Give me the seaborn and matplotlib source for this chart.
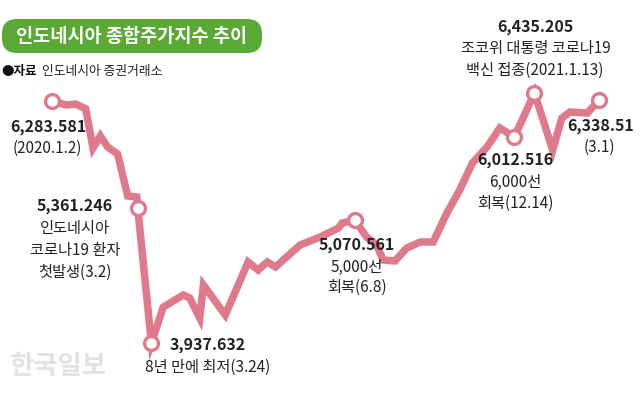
import seaborn as sns
import matplotlib.pyplot as plt
import pandas as pd
from matplotlib.patches import FancyBboxPatch
from matplotlib.transforms import IdentityTransform

# 주차(2020.1.2 기준) / 지수 - 그림에서 읽은 값
weeks = [0, 1.6, 2.6, 3.7, 4.5, 5.3, 6.1, 7.2, 8.3, 9.3, 9.4, 10.9, 12.2, 14.4,
         15.1, 16.2, 16.6, 19.0, 21.5, 22.6, 23.6, 24.5, 27.2, 29.4, 31.4, 31.8,
         33.2, 34.5, 35.6, 36.3, 37.6, 38.9, 40.4, 41.8, 43.3, 44.7, 46.1, 47.7,
         49.1, 50.7, 52.9, 54.9, 55.9, 56.8, 58.7, 60.0]
index_vals = [6336, 6296, 6306, 6257, 5869, 5988, 5879, 5809, 5392, 5382, 5273,
              3931, 4288, 4408, 4378, 4179, 4507, 4209, 4736, 4656, 4736, 4686,
              4905, 4984, 5074, 5123, 5153, 4984, 4905, 4756, 4746, 4875, 4935,
              4935, 5223, 5451, 5720, 5879, 6068, 5978, 6416, 5849, 6167, 6227,
              6217, 6346]

# 표시된 지점
mark_idx = [0, 10, 11, 26, 39, 40, 45]

title = '인도네시아 종합주가지수 추이'
source = '인도네시아 증권거래소'

df = pd.DataFrame({'week': weeks, 'value': index_vals})
marks = df.iloc[mark_idx]

sns.set_theme(style='white')
plt.rcParams['font.family'] = ['Noto Sans CJK KR', 'DejaVu Sans']

W, H = 640, 393
fig = plt.figure(figsize=(6.4, 3.93), dpi=100)
ax = fig.add_axes([0, 0, 1, 1])
ax.set_xlim(-5.70, 64.47)
ax.set_ylim(3434, 7340)
ax.axis('off')

line_col = '#df7a8c'
sns.lineplot(data=df, x='week', y='value', ax=ax, color=line_col, linewidth=5.4,
             solid_joinstyle='miter')
sns.scatterplot(data=marks, x='week', y='value', ax=ax, s=100, color='white',
                edgecolor=line_col, linewidth=2.4, zorder=5)


def px(x, y):
    return x / W, 1 - y / H


txt = '#222222'
bold_size = 11.5
norm_size = 11
light = 'light'

# 제목 (초록색 둥근 상자)
title_box = FancyBboxPatch((2, H - 53), 260, 34, boxstyle='round,pad=0,rounding_size=15',
                           fc='#5aa934', ec='none', transform=IdentityTransform())
fig.add_artist(title_box)
fig.text(*px(132, 36), title, color='white', fontsize=13.4, fontweight='bold',
         va='center', ha='center')
fig.text(*px(1, 72), '●자료', fontsize=9, fontweight='bold', color='#111111', va='center')
fig.text(*px(42, 72), source, fontsize=9.2, fontweight=light, color='#222222', va='center')

# 한국일보 워터마크
fig.text(*px(10, 367), '한국일보', fontsize=19, fontweight='bold', color='#e2e2e2',
         va='center', ha='left')

# 주석
fig.text(*px(10, 127), '6,283.581', fontsize=bold_size, fontweight='bold', color=txt, va='center')
fig.text(*px(13, 148), '(2020.1.2)', fontsize=norm_size, fontweight=light, color=txt, va='center')

fig.text(*px(75, 206), '5,361.246', fontsize=bold_size, fontweight='bold', color=txt, va='center', ha='center')
fig.text(*px(75, 228), '인도네시아', fontsize=norm_size, fontweight=light, color=txt, va='center', ha='center')
fig.text(*px(75, 250), '코로나19 환자', fontsize=norm_size, fontweight=light, color=txt, va='center', ha='center')
fig.text(*px(75, 272), '첫발생(3.2)', fontsize=norm_size, fontweight=light, color=txt, va='center', ha='center')

fig.text(*px(170, 345), '3,937.632', fontsize=bold_size, fontweight='bold', color=txt, va='center')
fig.text(*px(145, 367), '8년 만에 최저(3.24)', fontsize=norm_size, fontweight=light, color=txt, va='center')

fig.text(*px(357, 245), '5,070.561', fontsize=bold_size, fontweight='bold', color=txt, va='center', ha='center')
fig.text(*px(357, 267), '5,000선', fontsize=norm_size, fontweight=light, color=txt, va='center', ha='center')
fig.text(*px(357, 287), '회복(6.8)', fontsize=norm_size, fontweight=light, color=txt, va='center', ha='center')

fig.text(*px(535, 27), '6,435.205', fontsize=bold_size, fontweight='bold', color=txt, va='center', ha='center')
fig.text(*px(536, 48), '조코위 대통령 코로나19', fontsize=norm_size, fontweight=light, color=txt, va='center', ha='center')
fig.text(*px(535, 70), '백신 접종(2021.1.13)', fontsize=norm_size, fontweight=light, color=txt, va='center', ha='center')

fig.text(*px(515, 160), '6,012.516', fontsize=bold_size, fontweight='bold', color=txt, va='center', ha='center')
fig.text(*px(515, 182), '6,000선', fontsize=norm_size, fontweight=light, color=txt, va='center', ha='center')
fig.text(*px(515, 203), '회복(12.14)', fontsize=norm_size, fontweight=light, color=txt, va='center', ha='center')

fig.text(*px(567, 126), '6,338.51', fontsize=bold_size, fontweight='bold', color=txt, va='center')
fig.text(*px(599, 147), '(3.1)', fontsize=norm_size, fontweight=light, color=txt, va='center', ha='center')

fig.savefig('out.png', dpi=100)
plt.close(fig)
